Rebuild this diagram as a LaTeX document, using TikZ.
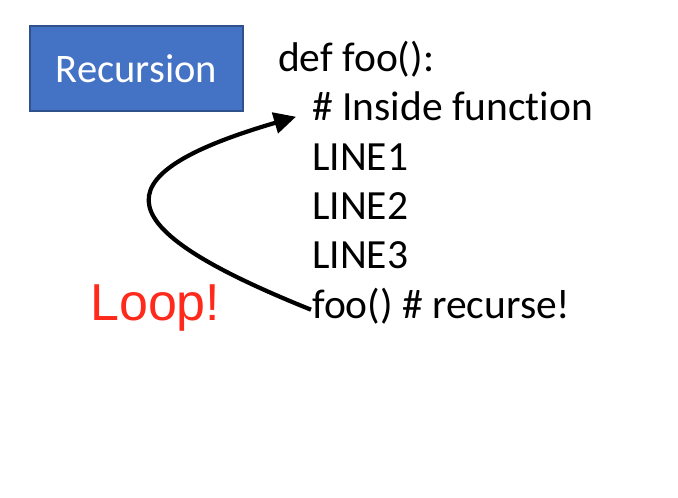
\documentclass[tikz,border=0pt]{standalone}
\usepackage{fontspec}
\setmainfont{Carlito}[Ligatures=NoCommon]
\newfontfamily\loopfont{Liberation Sans}
\usetikzlibrary{arrows.meta}
\definecolor{boxblue}{HTML}{4472C4}
\definecolor{boxedge}{HTML}{2F528F}
\definecolor{loopred}{HTML}{FF2A1C}
\tikzset{
  code/.style={anchor=base west, inner sep=0pt, font=\fontsize{41.5}{49}\selectfont},
  titlebox/.style={draw=boxedge, line width=1.5pt, fill=boxblue, text=white,
    minimum width=213pt, minimum height=85pt, inner sep=0pt,
    font=\fontsize{40.5}{49}\selectfont},
  looparrow/.style={line width=4.2pt, -{Triangle[length=22pt,width=21pt]}}
}
\begin{document}
\begin{tikzpicture}[x=1pt,y=-1pt]
    \useasboundingbox (0,0) rectangle (678,498);
    \node[titlebox] (title) at (136.5,68.5) {Recursion};
    %%% code lines
    \node[code] (def) at (278,71) {def foo():};
    \node[code] (inside) at (312,120) {\# Inside function};
    \foreach \i/\yy in {1/170, 2/219, 3/268}
    \node[code] (line\i) at (312,\yy) {LINE\i};
    \node[code] (call) at (312,318) {foo() \# recurse!};
    \node[anchor=base west, inner sep=0pt, text=loopred,
      font=\fontsize{52}{60}\loopfont] (loop) at (90,320) {Loop!};
    %%% back arrow
    \draw[looparrow] ([xshift=-1pt,yshift=-4pt]call.west)
      .. controls (113,230) and (90,177) .. ([shift={(-16pt,-11pt)}]inside.west);
  \end{tikzpicture}
\end{document}
